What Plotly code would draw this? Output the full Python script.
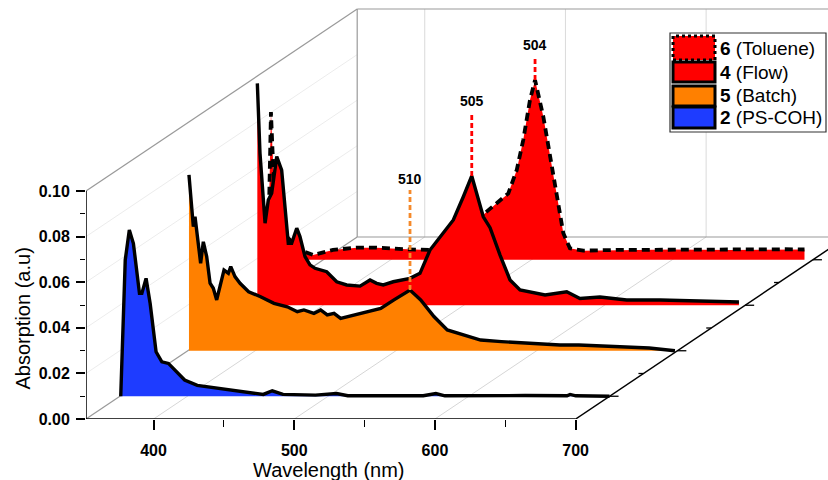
import numpy as np
import plotly.graph_objects as go

# ---------------- data ----------------
wl_toluene = [312.7, 314.8, 315.9, 317.7, 324.8, 335.4, 344.7, 358.9, 375.7, 390.0, 411.3, 427.8,
              442.0, 456.3, 468.1, 475.2, 483.5, 489.5, 494.1, 498.9, 502.5, 508.4, 514.3, 521.4,
              522.6, 527.3, 536.8, 560.0, 600.0, 640.0, 680.0, 694.0]
abs_toluene = [0.0, 0.0648, 0.048, 0.026, 0.0109, 0.0043, 0.0021, 0.0043, 0.0053, 0.0053, 0.0046, 0.0043,
               0.0073, 0.0139, 0.0211, 0.0248, 0.0291, 0.0394, 0.0525, 0.0701, 0.0788, 0.0627, 0.0423, 0.016,
               0.0116, 0.005, 0.004, 0.0043, 0.0045, 0.0043, 0.0046, 0.0045]

wl_flow = [353.3, 355.2, 358.8, 361.1, 363.5, 367.1, 370.6, 373.0, 375.3, 377.7, 381.3, 383.6,
           387.2, 390.7, 394.3, 402.6, 409.7, 416.8, 426.3, 433.4, 438.1, 442.8, 449.9, 461.8,
           468.9, 476.0, 485.5, 492.6, 499.7, 505.7, 513.9, 518.7, 525.8, 532.9, 540.0, 557.8,
           573.2, 582.6, 596.8, 615.8, 639.5, 667.9, 695.6]
abs_flow = [0.0973, 0.0666, 0.036, 0.0462, 0.0491, 0.0652, 0.0593, 0.0418, 0.0272, 0.0272, 0.0338, 0.0301,
            0.0213, 0.0177, 0.0162, 0.0147, 0.0103, 0.0089, 0.0084, 0.0111, 0.0096, 0.0089, 0.0103, 0.0118,
            0.014, 0.0242, 0.0315, 0.0374, 0.0476, 0.0567, 0.0388, 0.034, 0.022, 0.0111, 0.0067, 0.0045,
            0.0059, 0.003, 0.0036, 0.0023, 0.0023, 0.0019, 0.0014]

wl_batch = [352.9, 354.9, 356.0, 357.2, 359.6, 361.2, 363.1, 365.5, 367.9, 370.2, 372.6, 374.9,
            377.8, 380.9, 382.6, 385.6, 389.2, 395.3, 403.8, 413.3, 422.8, 429.9, 434.6, 441.7,
            446.5, 451.2, 456.0, 460.7, 470.2, 479.7, 489.2, 498.6, 505.7, 510.0, 517.6, 527.0,
            536.5, 543.6, 553.1, 560.2, 575.0, 590.0, 605.0, 616.6, 630.0, 645.0, 664.0, 680.0, 698.3]
abs_batch = [0.0771, 0.0603, 0.0544, 0.0588, 0.0471, 0.0384, 0.0478, 0.0413, 0.0296, 0.0274, 0.0223, 0.0281,
             0.0354, 0.034, 0.0369, 0.0325, 0.0296, 0.0259, 0.0237, 0.0208, 0.0193, 0.0171, 0.0179, 0.0164,
             0.0179, 0.0157, 0.0164, 0.0142, 0.0157, 0.0171, 0.0186, 0.0223, 0.0252, 0.0266, 0.0223, 0.015,
             0.0091, 0.0077, 0.0062, 0.0047, 0.004, 0.0035, 0.0032, 0.0025, 0.0025, 0.0022, 0.0018, 0.0012, 0.0]

wl_pscoh = [352.6, 355.8, 358.7, 361.6, 365.9, 367.6, 370.6, 373.5, 377.7, 381.8, 386.5, 394.8,
            398.0, 407.0, 422.0, 447.6, 453.9, 460.3, 467.9, 491.0, 506.0, 514.0, 567.6, 576.6,
            583.0, 640.0, 669.8, 672.0, 676.0, 700.0]
abs_pscoh = [0.0, 0.0598, 0.0729, 0.067, 0.0451, 0.0451, 0.0517, 0.0407, 0.0195, 0.0151, 0.0144, 0.0093,
             0.0071, 0.0048, 0.0036, 0.0016, 0.0008, 0.0024, 0.0008, 0.0005, 0.0012, 0.0002, 0.0002, 0.0012,
             0.0002, 0.0003, 0.0002, 0.0008, 0.0002, 0.0]

series_num = ["6", "4", "5", "2"]
series_name = ["(Toluene)", "(Flow)", "(Batch)", "(PS-COH)"]
series_fill = ["#FF0000", "#FF0000", "#FF8000", "#1E3CFF"]

peak_text = ["510", "505", "504"]            # Batch, Flow, Toluene
peak_color = ["#F5892A", "#FF0000", "#FF0000"]
peak_marker_top = [0.0705, 0.0848, 0.0894]

x_ticks = [400, 500, 600, 700]
x_minor = [450, 550, 650]
y_ticks = [0.0, 0.02, 0.04, 0.06, 0.08, 0.10]
y_ticktext = ["0.00", "0.02", "0.04", "0.06", "0.08", "0.10"]
y_minor = [0.01, 0.03, 0.05, 0.07, 0.09]

# ---------------- geometry of the pseudo-3D waterfall ----------------
W, H = 828, 480
ML, MB = 86, 61
PX_NM = 1.407          # pixels per nm on the front plane
PX_AU = 2280.0         # pixels per absorbance unit
X0, X1 = 352.0, 700.0  # wavelength axis extent
YTOP = 0.10
DX, DY = 67.8 / PX_NM, 45.5 / PX_AU   # shift of one depth step
ZBACK = 4.0
FONT = "Liberation Sans, Arial, sans-serif"


def proj(x, y, z):
    z = np.asarray(z, float)
    return np.asarray(x, float) + z * DX, np.asarray(y, float) + z * DY


fig = go.Figure()


def seg_trace(segs, color, width, dash=None):
    xs, ys = [], []
    for (xa, ya, za), (xb, yb, zb) in segs:
        sx, sy = proj([xa, xb], [ya, yb], [za, zb])
        xs += [sx[0], sx[1], None]
        ys += [sy[0], sy[1], None]
    fig.add_trace(go.Scatter(x=xs, y=ys, mode="lines", hoverinfo="skip", showlegend=False,
                             line=dict(color=color, width=width, dash=dash)))


# faint grid
seg_trace([((v, 0, 0), (v, 0, ZBACK)) for v in x_ticks[:-1]], "#d6d6d6", 1)
seg_trace([((v, 0, ZBACK), (v, YTOP, ZBACK)) for v in x_ticks[:-1]], "#dadada", 1)
seg_trace([((X0, v, 0), (X0, v, ZBACK)) for v in y_ticks[1:-1]], "#ececec", 1)
# walls frame
seg_trace([((X0, 0, 0), (X0, 0, ZBACK)), ((X0, YTOP, 0), (X0, YTOP, ZBACK)),
           ((X0, 0, ZBACK), (X0, YTOP, ZBACK)), ((X0, YTOP, ZBACK), (X1, YTOP, ZBACK)),
           ((X0, 0, ZBACK), (X1, 0, ZBACK))], "#9a9a9a", 1.2)

# spectra, back to front
spectra = [(wl_toluene, abs_toluene, 3.5), (wl_flow, abs_flow, 2.5),
           (wl_batch, abs_batch, 1.5), (wl_pscoh, abs_pscoh, 0.5)]
for i, (wl, ab, z) in enumerate(spectra):
    px = list(wl) + [wl[-1], wl[0]]
    py = list(ab) + [0.0, 0.0]
    fx, fy = proj(px, py, z)
    fig.add_trace(go.Scatter(x=fx, y=fy, mode="lines", fill="toself", fillcolor=series_fill[i],
                             line=dict(width=0, color=series_fill[i]), hoverinfo="skip", showlegend=False))
    lx, ly = proj(wl, ab, z)
    fig.add_trace(go.Scatter(x=lx, y=ly, mode="lines", hoverinfo="skip", showlegend=False,
                             line=dict(color="black", width=3.4 if i else 3.8,
                                       dash="8px,5px" if i == 0 else None)))

# front axes
seg_trace([((X0, 0, 0), (X1, 0, 0)), ((X0, 0, 0), (X0, YTOP, 0)),
           ((X1, 0, 0), (X1, 0, ZBACK))], "black", 1.5)
# depth-axis ticks
maj = [((X1, 0, z), (X1 + 9 / PX_NM, 0, z)) for z in (0.5, 1.5, 2.5, 3.5)]
mnr = [((X1 - 5 / PX_NM, 0, z), (X1, 0, z)) for z in (1.0, 2.0, 3.0)]
seg_trace(maj + mnr, "black", 1.3)

# peak markers
annotations = []
for k, idx in enumerate([2, 1, 0]):
    wl, ab, z = spectra[idx]
    wl_a, ab_a = np.asarray(wl), np.asarray(ab)
    m = wl_a > 450
    j = int(np.argmax(np.where(m, ab_a, -1)))
    pk_wl, pk_v = wl_a[j], ab_a[j]
    mx, my = proj([pk_wl, pk_wl], [pk_v, peak_marker_top[k]], z)
    fig.add_trace(go.Scatter(x=mx, y=my, mode="lines", hoverinfo="skip", showlegend=False,
                             line=dict(color=peak_color[k], width=2.8, dash="5px,3px")))
    annotations.append(dict(x=mx[1], y=my[1], xref="x", yref="y", text="<b>%s</b>" % peak_text[k],
                            showarrow=False, yanchor="bottom", xanchor="center", yshift=1,
                            font=dict(family=FONT, size=14, color="black")))

# axis titles
annotations.append(dict(x=X0 + (329 - ML) / PX_NM, y=-(470 - (H - MB)) / (H - MB), xref="x", yref="paper",
                        text="Wavelength (nm)", showarrow=False, xanchor="center", yanchor="middle",
                        font=dict(family=FONT, size=20, color="black")))
annotations.append(dict(x=(22.5 - ML) / (W - ML), y=0.0443, xref="paper", yref="y",
                        text="Absorption (a.u)", showarrow=False, textangle=-90,
                        xanchor="center", yanchor="middle",
                        font=dict(family=FONT, size=20, color="black")))


# custom legend (pixel boxes converted to paper coordinates)
def pxx(p):
    return (p - ML) / (W - ML)


def pxy(p):
    return ((H - MB) - p) / (H - MB)


shapes = [dict(type="rect", xref="paper", yref="paper", x0=pxx(670), x1=pxx(826), y0=pxy(132), y1=pxy(33),
               line=dict(color="#333333", width=1.2), fillcolor="white", layer="above")]
sw_top = [36, 62, 86, 107]
sw_bot = [60, 82, 106, 128]
for i in range(4):
    shapes.append(dict(type="rect", xref="paper", yref="paper", x0=pxx(673), x1=pxx(715),
                       y0=pxy(sw_bot[i]), y1=pxy(sw_top[i]), fillcolor=series_fill[i], layer="above",
                       line=dict(color="black", width=3, dash="dot" if i == 0 else "solid")))
    annotations.append(dict(x=pxx(718), y=pxy((sw_top[i] + sw_bot[i]) / 2), xref="paper", yref="paper",
                            text="<b>%s</b> %s" % (series_num[i], series_name[i]), showarrow=False,
                            xanchor="left", yanchor="middle",
                            font=dict(family=FONT, size=19, color="black")))

fig.update_layout(
    width=W, height=H, margin=dict(l=ML, r=0, t=0, b=MB, pad=0),
    plot_bgcolor="white", paper_bgcolor="white", showlegend=False,
    xaxis=dict(range=[X0, X0 + (W - ML) / PX_NM], showgrid=False, zeroline=False, showline=False,
               tickmode="array", tickvals=x_ticks, ticks="outside", ticklen=10, tickwidth=1.5,
               tickcolor="black", ticklabelstandoff=7,
               tickfont=dict(family=FONT, size=16, color="black", weight="bold"),
               minor=dict(tickvals=x_minor, ticks="outside", ticklen=7, tickwidth=1.3, tickcolor="black")),
    yaxis=dict(range=[0, (H - MB) / PX_AU], showgrid=False, zeroline=False, showline=False,
               tickmode="array", tickvals=y_ticks, ticktext=y_ticktext, ticks="outside", ticklen=9,
               tickwidth=1.5, tickcolor="black", ticklabelstandoff=3,
               tickfont=dict(family=FONT, size=16, color="black", weight="bold"),
               minor=dict(tickvals=y_minor, ticks="outside", ticklen=5, tickwidth=1.3, tickcolor="black")),
    annotations=annotations, shapes=shapes,
)

fig.write_html("out.html")
